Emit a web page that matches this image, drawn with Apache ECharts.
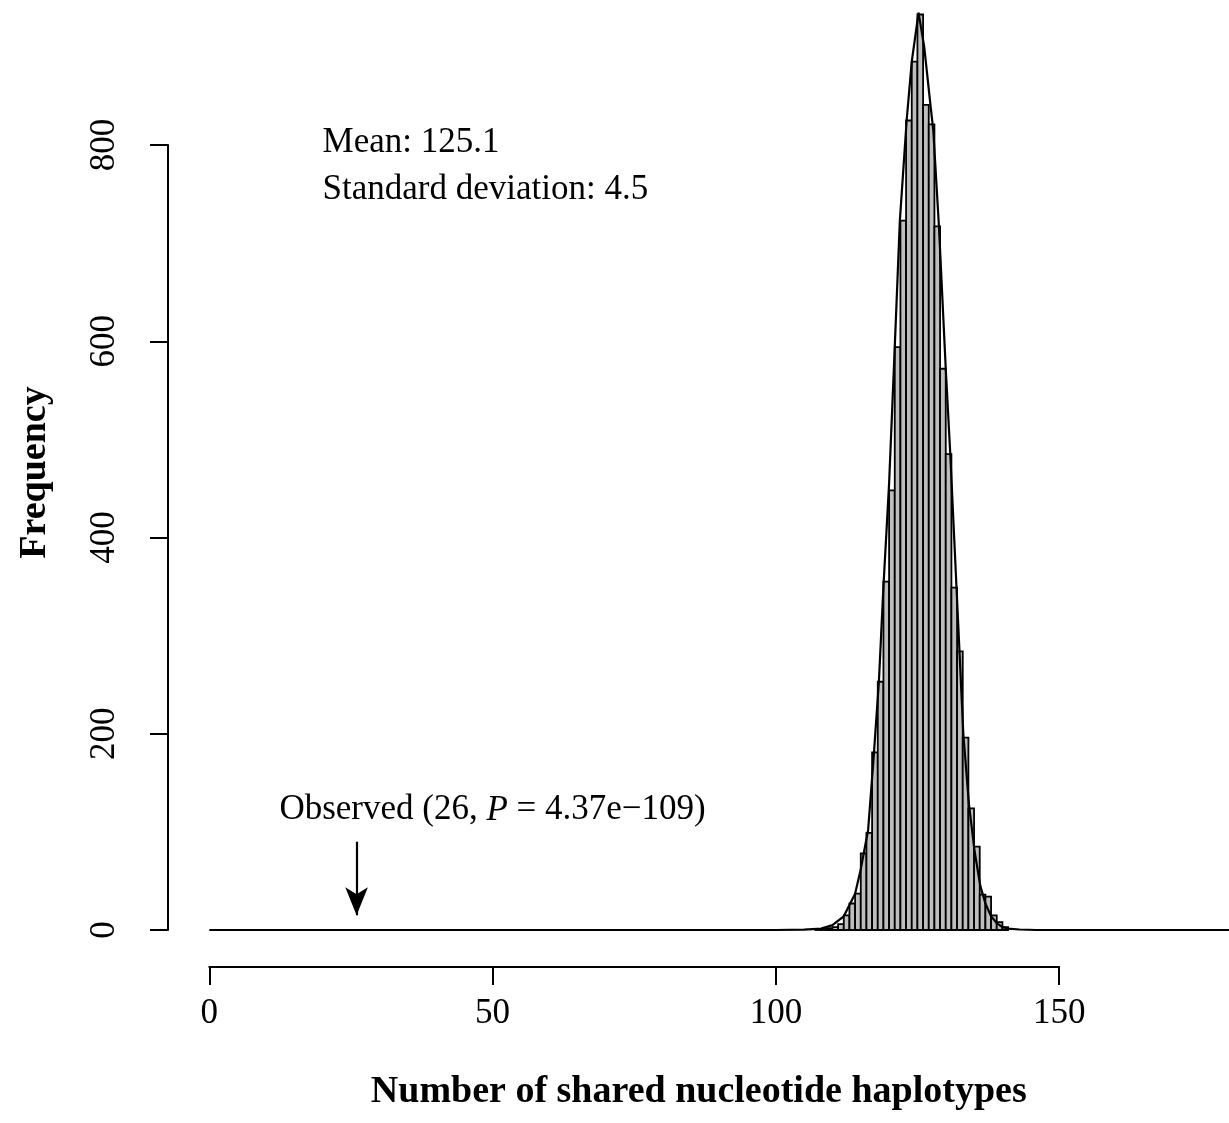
<!DOCTYPE html>
<html>
<head>
<meta charset="utf-8">
<script src="https://cdn.jsdelivr.net/npm/echarts@6/dist/echarts.min.js"></script>
<style>
html,body{margin:0;padding:0;background:#ffffff;}
#chart{width:1229px;height:1123px;}
</style>
</head>
<body>
<div id="chart"></div>
<script>
// ---- data ----
const binStarts = [107,108,109,110,111,112,113,114,115,116,117,118,119,120,121,122,123,124,125,126,127,128,129,130,131,132,133,134,135,136,137,138,139,140];
const binWidth = 1;
const counts = [1,1,2,3,6,15,27,37,78,99,181,253,355,448,594,723,825,885,933,841,821,717,572,485,349,284,196,124,85,36,34,15,8,3];

const curveX = [0,100,105,108,110,112,114,115,116.3,117.2,118.2,119,120,121,121.9,123.1,124,125.2,126.2,127.3,127.8,128.8,130,130.8,131.9,133.1,134.1,135.1,136.1,137,138,139,140,141,143,146,150,180];
const curveY = [0,0,0.3,1.5,5,14,37,62,102,170,253,350,455,594,723,825,885,935,900,841,815,717,572,485,349,200,128,80,45,27,14,7,3,1.5,0.5,0,0,0];

const xTicks = [0,50,100,150];
const yTicks = [0,200,400,600,800];
const meanValue = 125.1;
const sdValue = 4.5;
const observedValue = 26;
const observedP = '4.37e\u2212109';
const xTitle = 'Number of shared nucleotide haplotypes';
const yTitle = 'Frequency';

// ---- chart ----
const FONT = 'Liberation Serif, Times New Roman, serif';
const chart = echarts.init(document.getElementById('chart'), null, {renderer: 'canvas'});

const barData = binStarts.map((b, i) => [b, counts[i]]);
const curveData = curveX.map((x, i) => [x, curveY[i]]);

const option = {
  backgroundColor: '#ffffff',
  animation: false,
  grid: [
    {left: 168.5, right: 0, top: 0, bottom: 156},       // plotting region
    {left: 168, top: 145, bottom: 193, width: 10},      // y axis (0..800)
    {left: 209.3, right: 169.8, top: 0, bottom: 156}    // x axis (0..150)
  ],
  xAxis: [
    {
      gridIndex: 0, type: 'value', min: -7.2, max: 180,
      axisLine: {show: false}, axisTick: {show: false}, axisLabel: {show: false}, splitLine: {show: false},
      name: xTitle, nameLocation: 'middle', nameGap: 106,
      nameTextStyle: {fontFamily: FONT, fontSize: 38, fontWeight: 'bold', color: '#000'}
    },
    {gridIndex: 1, type: 'value', show: false, min: 0, max: 1},
    {
      gridIndex: 2, type: 'value', min: xTicks[0], max: xTicks[xTicks.length - 1], interval: 50,
      position: 'bottom',
      axisLine: {show: true, lineStyle: {color: '#000', width: 2}},
      axisTick: {show: true, inside: false, length: 18, lineStyle: {color: '#000', width: 2}},
      axisLabel: {show: true, margin: 29, fontFamily: FONT, fontSize: 35, color: '#000'},
      splitLine: {show: false}
    }
  ],
  yAxis: [
    {
      gridIndex: 0, type: 'value', min: -37.7, max: 947.8,
      axisLine: {show: false}, axisTick: {show: false}, axisLabel: {show: false}, splitLine: {show: false},
      name: yTitle, nameLocation: 'middle', nameRotate: 90, nameGap: 114,
      nameTextStyle: {fontFamily: FONT, fontSize: 38, fontWeight: 'bold', color: '#000', padding: [0, 0, 0, 22]}
    },
    {
      gridIndex: 1, type: 'value', min: yTicks[0], max: yTicks[yTicks.length - 1], interval: 200,
      axisLine: {show: true, lineStyle: {color: '#000', width: 2}},
      axisTick: {show: true, inside: false, length: 18, lineStyle: {color: '#000', width: 2}},
      axisLabel: {show: true, rotate: 90, margin: 46, fontFamily: FONT, fontSize: 35, color: '#000'},
      splitLine: {show: false}
    },
    {gridIndex: 2, type: 'value', show: false, min: 0, max: 1}
  ],
  series: [
    {
      type: 'custom',
      xAxisIndex: 0, yAxisIndex: 0,
      data: barData,
      encode: {x: 0, y: 1},
      renderItem: function (params, api) {
        const x0 = api.value(0);
        const y = api.value(1);
        const pTop = api.coord([x0, y]);
        const pBot = api.coord([x0 + binWidth, 0]);
        return {
          type: 'rect',
          shape: {x: pTop[0], y: pTop[1], width: pBot[0] - pTop[0], height: pBot[1] - pTop[1]},
          style: {fill: '#bebebe', stroke: '#000000', lineWidth: 1.8}
        };
      },
      z: 2
    },
    {
      type: 'line',
      xAxisIndex: 0, yAxisIndex: 0,
      data: curveData,
      showSymbol: false,
      smooth: false,
      lineStyle: {color: '#000', width: 2.2},
      z: 3,
      markLine: {
        silent: true,
        animation: false,
        lineStyle: {color: '#000', width: 2.2, type: 'solid'},
        label: {show: false},
        data: [[
          {coord: [observedValue, 90], symbol: 'none'},
          {coord: [observedValue, 15], symbol: 'arrow', symbolSize: [17, 28]}
        ]]
      },
      markPoint: {
        silent: true,
        animation: false,
        symbol: 'circle',
        symbolSize: 0,
        itemStyle: {color: 'rgba(0,0,0,0)'},
        data: [
          {coord: [20, 802], label: {show: true, position: 'right', distance: 0, formatter: 'Mean: ' + meanValue.toFixed(1),
            fontFamily: FONT, fontSize: 35, color: '#000'}},
          {coord: [20, 754], label: {show: true, position: 'right', distance: 0, formatter: 'Standard deviation: ' + sdValue.toFixed(1),
            fontFamily: FONT, fontSize: 35, color: '#000'}},
          {coord: [50, 122], label: {show: true, position: 'inside',
            formatter: '{n|Observed (' + observedValue + ', }{i|P}{n| = ' + observedP + ')}',
            rich: {
              n: {fontFamily: FONT, fontSize: 35, color: '#000'},
              i: {fontFamily: FONT, fontSize: 35, color: '#000', fontStyle: 'italic'}
            }}}
        ]
      }
    }
  ]
};
chart.setOption(option);
</script>
</body>
</html>
